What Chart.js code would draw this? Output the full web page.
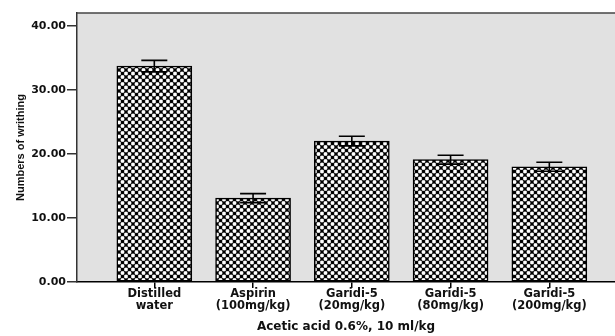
<!DOCTYPE html>
<html>
<head>
<meta charset="utf-8">
<script src="https://cdn.jsdelivr.net/npm/chart.js@4.4.0/dist/chart.umd.min.js"></script>
<style>
  html, body { margin: 0; padding: 0; background: #ffffff; }
  #wrap { width: 615px; height: 336px; }
</style>
</head>
<body>
<div id="wrap"><canvas id="c" width="615" height="336"></canvas></div>
<script>
// Treatment groups (two-line labels), mean writhing counts and standard errors
const categories = [
  ["Distilled", "water"],
  ["Aspirin", "(100mg/kg)"],
  ["Garidi-5", "(20mg/kg)"],
  ["Garidi-5", "(80mg/kg)"],
  ["Garidi-5", "(200mg/kg)"]
];
const meanWrithing = [33.7, 13.1, 22.0, 19.1, 18.0];
const seWrithing = [0.9, 0.7, 0.75, 0.7, 0.7];
const yTicks = [0, 10, 20, 30, 40];
const yTitle = "Numbers of writhing";
const xTitle = "Acetic acid 0.6%, 10 ml/kg";

// Crosshatch fill used for the bars
function makeHatch() {
  const s = 7;
  const t = document.createElement('canvas');
  t.width = s; t.height = s;
  const g = t.getContext('2d');
  g.fillStyle = '#ffffff';
  g.fillRect(0, 0, s, s);
  g.strokeStyle = '#1a1a1a';
  g.lineWidth = 1.2;
  g.beginPath();
  g.moveTo(-1, -1); g.lineTo(s + 1, s + 1);
  g.moveTo(s + 1, -1); g.lineTo(-1, s + 1);
  g.stroke();
  g.fillStyle = '#000000';
  [[s / 2, s / 2], [0, 0], [s, 0], [0, s], [s, s]].forEach(([x, y]) => {
    g.beginPath(); g.arc(x, y, 1.7, 0, Math.PI * 2); g.fill();
  });
  return document.getElementById('c').getContext('2d').createPattern(t, 'repeat');
}

const points = meanWrithing.map((v, i) => ({ x: i + 1, y: v }));

// Plot background and top frame line
const framePlugin = {
  id: 'frame',
  beforeDraw(chart) {
    const { ctx, chartArea: a } = chart;
    ctx.save();
    ctx.fillStyle = '#e1e1e1';
    ctx.fillRect(a.left, a.top, a.right - a.left, a.bottom - a.top);
    ctx.restore();
  },
  afterDraw(chart) {
    const { ctx, chartArea: a } = chart;
    ctx.save();
    ctx.strokeStyle = '#444444';
    ctx.lineWidth = 1.5;
    ctx.beginPath();
    ctx.moveTo(a.left, a.top);
    ctx.lineTo(a.right, a.top);
    ctx.stroke();
    ctx.restore();
  }
};

// Mean ± SE whiskers with caps
const errorBarPlugin = {
  id: 'errorBars',
  afterDatasetsDraw(chart) {
    const { ctx } = chart;
    const yScale = chart.scales.y;
    const meta = chart.getDatasetMeta(0);
    ctx.save();
    ctx.strokeStyle = '#000000';
    ctx.lineWidth = 1.6;
    meta.data.forEach((bar, i) => {
      const m = meanWrithing[i], e = seWrithing[i];
      const yHi = yScale.getPixelForValue(m + e);
      const yLo = yScale.getPixelForValue(m - e);
      const x = bar.x, half = 13;
      ctx.beginPath();
      ctx.moveTo(x, yHi); ctx.lineTo(x, yLo);
      ctx.moveTo(x - half, yHi); ctx.lineTo(x + half, yHi);
      ctx.moveTo(x - half, yLo); ctx.lineTo(x + half, yLo);
      ctx.stroke();
    });
    ctx.restore();
  }
};

new Chart(document.getElementById('c'), {
  type: 'bar',
  data: {
    datasets: [{
      data: points,
      backgroundColor: makeHatch(),
      borderColor: '#000000',
      borderWidth: 1.5,
      borderSkipped: false,
      barThickness: 75
    }]
  },
  options: {
    responsive: false,
    animation: false,
    layout: { padding: { top: 13, right: 0, left: 0, bottom: 0 } },
    plugins: { legend: { display: false }, tooltip: { enabled: false } },
    scales: {
      x: {
        type: 'linear',
        offset: false,
        min: 0.217,
        max: 5.665,
        afterBuildTicks(scale) { scale.ticks = categories.map((c, i) => ({ value: i + 1 })); },
        afterFit(scale) { scale.height = 54; },
        border: { display: true, color: '#000000', width: 1.5 },
        grid: { display: true, offset: false, drawOnChartArea: false, drawTicks: true, tickLength: 6, color: '#000000', lineWidth: 1.5 },
        ticks: {
          autoSkip: false,
          maxRotation: 0,
          padding: 0,
          color: '#111111',
          font: { family: "'DejaVu Sans', sans-serif", weight: 'bold', size: 11.5, lineHeight: 1.05 },
          callback: (v) => categories[v - 1] || ''
        },
        title: {
          display: true,
          text: xTitle,
          color: '#111111',
          font: { family: "'DejaVu Sans', sans-serif", weight: 'bold', size: 12 },
          padding: { top: 0, bottom: 2 }
        }
      },
      y: {
        min: 0,
        max: 42,
        afterBuildTicks(scale) { scale.ticks = yTicks.map(v => ({ value: v })); },
        afterFit(scale) { scale.width = 77; },
        border: { display: true, color: '#333333', width: 1.5 },
        grid: { display: true, drawOnChartArea: false, drawTicks: true, tickLength: 10, color: '#333333', lineWidth: 1.5 },
        ticks: {
          padding: 1,
          color: '#111111',
          font: { family: "'DejaVu Sans', sans-serif", weight: 'bold', size: 11 },
          callback: (v) => Number(v).toFixed(2)
        },
        title: {
          display: true,
          text: yTitle,
          color: '#111111',
          font: { family: "'Liberation Sans Narrow', 'Liberation Sans', sans-serif", weight: 'bold', size: 11 },
          padding: { top: 14, bottom: 0 }
        }
      }
    }
  },
  plugins: [framePlugin, errorBarPlugin]
});
</script>
</body>
</html>
